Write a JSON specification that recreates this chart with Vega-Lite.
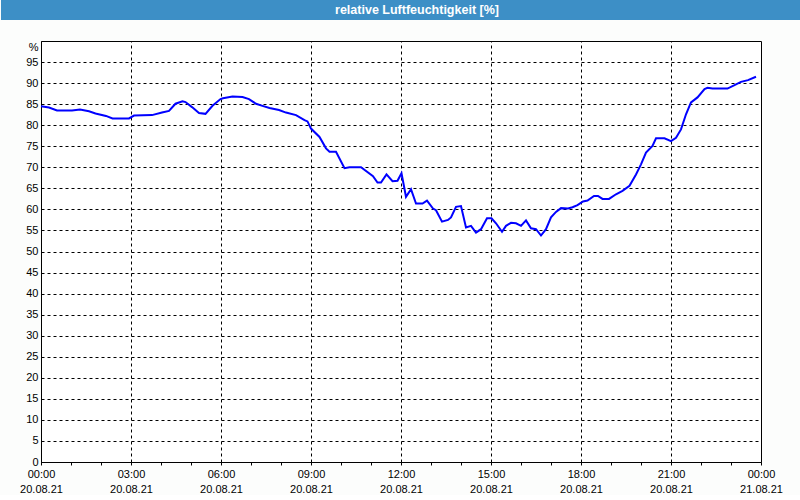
{
  "$schema": "https://vega.github.io/schema/vega-lite/v6.json",
  "padding": 0,
  "background": "#fcfdfc",
  "spacing": 20,
  "config": {"font": "Liberation Sans", "view": {"stroke": null}},
  "vconcat": [
    {
      "width": 720,
      "height": 20,
      "data": {"values": [{"title": "relative Luftfeuchtigkeit [%]"}]},
      "layer": [
        {
          "mark": {"type": "rect", "color": "#3d8fc6"},
          "encoding": {
            "x": {"datum": 0, "type": "quantitative", "scale": {"domain": [40, 760], "nice": false, "zero": false}, "axis": null},
            "x2": {"datum": 800},
            "y": {"datum": 0, "type": "quantitative", "scale": {"domain": [0, 1], "nice": false, "zero": false}, "axis": null},
            "y2": {"datum": 1}
          }
        },
        {
          "mark": {"type": "text", "color": "white", "font": "Liberation Sans", "fontWeight": "bold", "fontSize": 12.5, "baseline": "middle", "align": "center"},
          "encoding": {
            "text": {"field": "title"},
            "x": {"datum": 416, "type": "quantitative"},
            "y": {"datum": 0.5, "type": "quantitative"}
          }
        }
      ]
    },
    {
      "width": 720,
      "height": 421,
      "view": {"fill": "white", "stroke": "black"},
      "data": {"values": [
        {"t": "2021-08-20T00:00", "v": 84.5},
        {"t": "2021-08-20T00:16", "v": 84.2},
        {"t": "2021-08-20T00:32", "v": 83.5},
        {"t": "2021-08-20T01:02", "v": 83.5},
        {"t": "2021-08-20T01:18", "v": 83.7},
        {"t": "2021-08-20T01:36", "v": 83.3},
        {"t": "2021-08-20T01:49", "v": 82.8},
        {"t": "2021-08-20T02:10", "v": 82.2},
        {"t": "2021-08-20T02:23", "v": 81.6},
        {"t": "2021-08-20T02:56", "v": 81.6},
        {"t": "2021-08-20T03:06", "v": 82.3},
        {"t": "2021-08-20T03:42", "v": 82.4},
        {"t": "2021-08-20T04:02", "v": 83.0},
        {"t": "2021-08-20T04:16", "v": 83.4},
        {"t": "2021-08-20T04:29", "v": 85.1},
        {"t": "2021-08-20T04:43", "v": 85.7},
        {"t": "2021-08-20T04:49", "v": 85.5},
        {"t": "2021-08-20T05:02", "v": 84.3},
        {"t": "2021-08-20T05:16", "v": 82.9},
        {"t": "2021-08-20T05:29", "v": 82.7},
        {"t": "2021-08-20T05:43", "v": 84.6},
        {"t": "2021-08-20T05:59", "v": 86.2},
        {"t": "2021-08-20T06:04", "v": 86.4},
        {"t": "2021-08-20T06:23", "v": 86.8},
        {"t": "2021-08-20T06:43", "v": 86.7},
        {"t": "2021-08-20T06:56", "v": 86.2},
        {"t": "2021-08-20T07:10", "v": 85.1},
        {"t": "2021-08-20T07:23", "v": 84.6},
        {"t": "2021-08-20T07:37", "v": 84.1},
        {"t": "2021-08-20T07:56", "v": 83.6},
        {"t": "2021-08-20T08:10", "v": 83.0},
        {"t": "2021-08-20T08:30", "v": 82.4},
        {"t": "2021-08-20T08:47", "v": 81.2},
        {"t": "2021-08-20T08:53", "v": 80.9},
        {"t": "2021-08-20T09:00", "v": 79.2},
        {"t": "2021-08-20T09:17", "v": 77.2},
        {"t": "2021-08-20T09:30", "v": 74.5},
        {"t": "2021-08-20T09:37", "v": 73.7},
        {"t": "2021-08-20T09:50", "v": 73.7},
        {"t": "2021-08-20T10:07", "v": 69.8},
        {"t": "2021-08-20T10:17", "v": 70.0},
        {"t": "2021-08-20T10:40", "v": 70.0},
        {"t": "2021-08-20T11:04", "v": 67.9},
        {"t": "2021-08-20T11:13", "v": 66.4},
        {"t": "2021-08-20T11:20", "v": 66.4},
        {"t": "2021-08-20T11:31", "v": 68.3},
        {"t": "2021-08-20T11:43", "v": 66.7},
        {"t": "2021-08-20T11:53", "v": 66.8},
        {"t": "2021-08-20T12:01", "v": 68.6},
        {"t": "2021-08-20T12:10", "v": 63.0},
        {"t": "2021-08-20T12:20", "v": 64.8},
        {"t": "2021-08-20T12:30", "v": 61.4},
        {"t": "2021-08-20T12:43", "v": 61.4},
        {"t": "2021-08-20T12:52", "v": 62.1},
        {"t": "2021-08-20T13:04", "v": 60.2},
        {"t": "2021-08-20T13:10", "v": 59.8},
        {"t": "2021-08-20T13:22", "v": 57.1},
        {"t": "2021-08-20T13:34", "v": 57.5},
        {"t": "2021-08-20T13:40", "v": 58.1},
        {"t": "2021-08-20T13:50", "v": 60.6},
        {"t": "2021-08-20T14:00", "v": 60.8},
        {"t": "2021-08-20T14:10", "v": 55.7},
        {"t": "2021-08-20T14:20", "v": 56.1},
        {"t": "2021-08-20T14:30", "v": 54.5},
        {"t": "2021-08-20T14:40", "v": 55.3},
        {"t": "2021-08-20T14:52", "v": 57.9},
        {"t": "2021-08-20T15:01", "v": 57.9},
        {"t": "2021-08-20T15:10", "v": 56.7},
        {"t": "2021-08-20T15:22", "v": 54.7},
        {"t": "2021-08-20T15:30", "v": 56.1},
        {"t": "2021-08-20T15:40", "v": 56.8},
        {"t": "2021-08-20T15:50", "v": 56.7},
        {"t": "2021-08-20T16:00", "v": 56.1},
        {"t": "2021-08-20T16:10", "v": 57.4},
        {"t": "2021-08-20T16:20", "v": 55.5},
        {"t": "2021-08-20T16:30", "v": 55.3},
        {"t": "2021-08-20T16:40", "v": 53.8},
        {"t": "2021-08-20T16:50", "v": 55.3},
        {"t": "2021-08-20T17:00", "v": 58.1},
        {"t": "2021-08-20T17:10", "v": 59.4},
        {"t": "2021-08-20T17:20", "v": 60.3},
        {"t": "2021-08-20T17:34", "v": 60.2},
        {"t": "2021-08-20T17:43", "v": 60.5},
        {"t": "2021-08-20T17:53", "v": 61.0},
        {"t": "2021-08-20T18:04", "v": 61.9},
        {"t": "2021-08-20T18:13", "v": 62.1},
        {"t": "2021-08-20T18:26", "v": 63.2},
        {"t": "2021-08-20T18:34", "v": 63.2},
        {"t": "2021-08-20T18:43", "v": 62.5},
        {"t": "2021-08-20T18:56", "v": 62.5},
        {"t": "2021-08-20T19:10", "v": 63.6},
        {"t": "2021-08-20T19:23", "v": 64.4},
        {"t": "2021-08-20T19:37", "v": 65.6},
        {"t": "2021-08-20T19:50", "v": 68.3},
        {"t": "2021-08-20T20:00", "v": 70.7},
        {"t": "2021-08-20T20:10", "v": 73.5},
        {"t": "2021-08-20T20:23", "v": 75.1},
        {"t": "2021-08-20T20:30", "v": 76.9},
        {"t": "2021-08-20T20:47", "v": 76.9},
        {"t": "2021-08-20T21:00", "v": 76.2},
        {"t": "2021-08-20T21:10", "v": 77.0},
        {"t": "2021-08-20T21:20", "v": 79.0},
        {"t": "2021-08-20T21:30", "v": 82.6},
        {"t": "2021-08-20T21:40", "v": 85.4},
        {"t": "2021-08-20T21:53", "v": 86.6},
        {"t": "2021-08-20T22:07", "v": 88.6},
        {"t": "2021-08-20T22:13", "v": 88.9},
        {"t": "2021-08-20T22:23", "v": 88.7},
        {"t": "2021-08-20T22:53", "v": 88.7},
        {"t": "2021-08-20T23:07", "v": 89.5},
        {"t": "2021-08-20T23:20", "v": 90.3},
        {"t": "2021-08-20T23:34", "v": 90.7},
        {"t": "2021-08-20T23:50", "v": 91.5}
      ]},
      "encoding": {
        "y": {
          "field": "v",
          "type": "quantitative",
          "scale": {"domain": [0, 100], "nice": false},
          "axis": {
            "values": [0, 5, 10, 15, 20, 25, 30, 35, 40, 45, 50, 55, 60, 65, 70, 75, 80, 85, 90, 95],
            "title": "%",
            "titleAngle": 0,
            "titleX": -3,
            "titleY": 6,
            "titleAlign": "right",
            "titleBaseline": "middle",
            "titleFontWeight": "normal",
            "titleFontSize": 11,
            "titleFont": "Liberation Sans",
            "titleColor": "black",
            "tickSize": 40,
            "tickColor": "transparent",
            "labelPadding": -37,
            "labelColor": "black",
            "labelFontSize": 11,
            "labelFont": "Liberation Sans",
            "labelFlush": false,
            "labelOverlap": false,
            "domainColor": "black",
            "gridColor": "black",
            "gridDash": [3, 3],
            "gridOpacity": 1
          }
        }
      },
      "layer": [
        {
          "mark": {"type": "line", "color": "#0000ff", "strokeWidth": 2},
          "encoding": {
            "x": {
              "field": "t",
              "type": "temporal",
              "scale": {"domain": [{"year": 2021, "month": 8, "date": 20, "hours": 0}, {"year": 2021, "month": 8, "date": 21, "hours": 0}]},
              "axis": {
                "title": null,
                "grid": false,
                "values": [
                  {"year": 2021, "month": 8, "date": 20, "hours": 0},
                  {"year": 2021, "month": 8, "date": 20, "hours": 1},
                  {"year": 2021, "month": 8, "date": 20, "hours": 2},
                  {"year": 2021, "month": 8, "date": 20, "hours": 3},
                  {"year": 2021, "month": 8, "date": 20, "hours": 4},
                  {"year": 2021, "month": 8, "date": 20, "hours": 5},
                  {"year": 2021, "month": 8, "date": 20, "hours": 6},
                  {"year": 2021, "month": 8, "date": 20, "hours": 7},
                  {"year": 2021, "month": 8, "date": 20, "hours": 8},
                  {"year": 2021, "month": 8, "date": 20, "hours": 9},
                  {"year": 2021, "month": 8, "date": 20, "hours": 10},
                  {"year": 2021, "month": 8, "date": 20, "hours": 11},
                  {"year": 2021, "month": 8, "date": 20, "hours": 12},
                  {"year": 2021, "month": 8, "date": 20, "hours": 13},
                  {"year": 2021, "month": 8, "date": 20, "hours": 14},
                  {"year": 2021, "month": 8, "date": 20, "hours": 15},
                  {"year": 2021, "month": 8, "date": 20, "hours": 16},
                  {"year": 2021, "month": 8, "date": 20, "hours": 17},
                  {"year": 2021, "month": 8, "date": 20, "hours": 18},
                  {"year": 2021, "month": 8, "date": 20, "hours": 19},
                  {"year": 2021, "month": 8, "date": 20, "hours": 20},
                  {"year": 2021, "month": 8, "date": 20, "hours": 21},
                  {"year": 2021, "month": 8, "date": 20, "hours": 22},
                  {"year": 2021, "month": 8, "date": 20, "hours": 23},
                  {"year": 2021, "month": 8, "date": 21, "hours": 0}
                ],
                "labelExpr": "hours(datum.value) % 3 == 0 ? [timeFormat(datum.value, '%H:%M'), timeFormat(datum.value, '%d.%m.%y')] : ''",
                "labelFlush": false,
                "labelOverlap": false,
                "labelPadding": 3,
                "labelLineHeight": 15,
                "labelBaseline": "top",
                "labelColor": "black",
                "labelFontSize": 11,
                "labelFont": "Liberation Sans",
                "tickSize": 3,
                "tickColor": "black",
                "domainColor": "black"
              }
            }
          }
        },
        {
          "mark": {"type": "line", "opacity": 0},
          "encoding": {
            "x": {
              "field": "t",
              "type": "temporal",
              "axis": {
                "orient": "top",
                "title": null,
                "labels": false,
                "ticks": false,
                "domain": false,
                "grid": true,
                "values": [
                  {"year": 2021, "month": 8, "date": 20, "hours": 3},
                  {"year": 2021, "month": 8, "date": 20, "hours": 6},
                  {"year": 2021, "month": 8, "date": 20, "hours": 9},
                  {"year": 2021, "month": 8, "date": 20, "hours": 12},
                  {"year": 2021, "month": 8, "date": 20, "hours": 15},
                  {"year": 2021, "month": 8, "date": 20, "hours": 18},
                  {"year": 2021, "month": 8, "date": 20, "hours": 21}
                ],
                "gridColor": "black",
                "gridDash": [3, 3],
                "gridOpacity": 1
              }
            }
          }
        }
      ],
      "resolve": {"axis": {"x": "independent"}}
    }
  ]
}
